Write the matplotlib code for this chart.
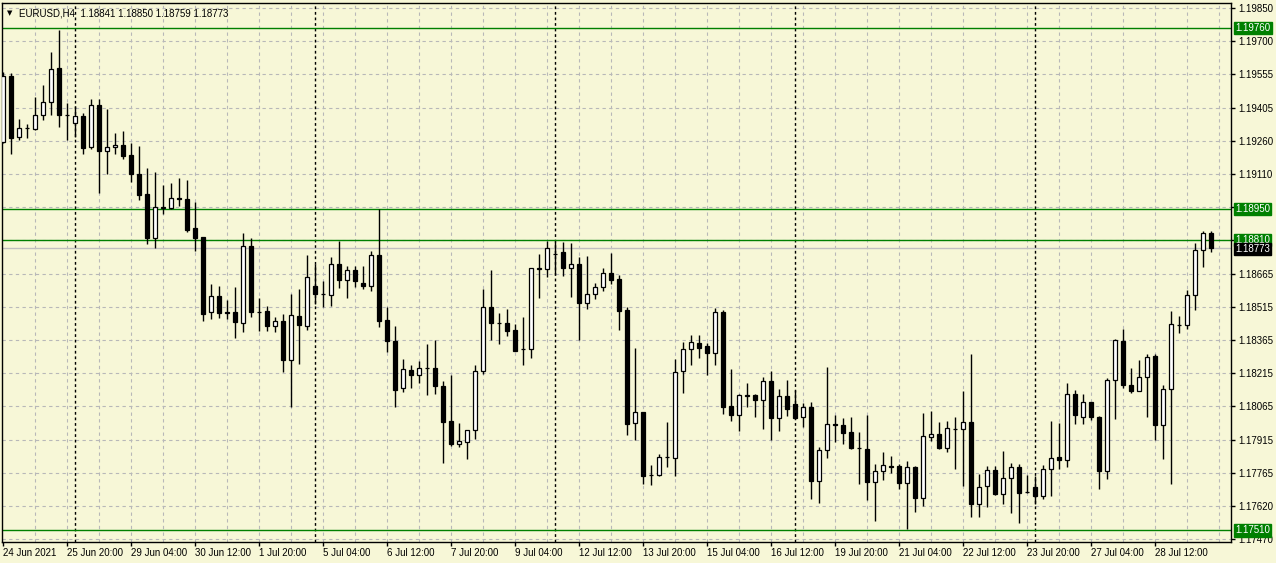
import matplotlib
matplotlib.use('Agg')
import matplotlib.pyplot as plt
import matplotlib.transforms as mtransforms
import numpy as np

plt.rcParams['font.family'] = ['Liberation Sans', 'DejaVu Sans']

# ---- data (EURUSD H4) ----
symbol = 'EURUSD,H4'

opens = [1.19250, 1.19545, 1.19270, 1.19310, 1.19307, 1.19369, 1.19427, 1.19582, 1.19369, 1.19334,
         1.19364, 1.19226, 1.19414, 1.19210, 1.19226, 1.19234, 1.19191, 1.19106, 1.19017, 1.18821,
         1.18955, 1.18953, 1.18999, 1.18995, 1.18864, 1.18824, 1.18486, 1.18559, 1.18486, 1.18486,
         1.18441, 1.18782, 1.18490, 1.18491, 1.18427, 1.18446, 1.18274, 1.18470, 1.18427, 1.18604,
         1.18570, 1.18565, 1.18702, 1.18633, 1.18675, 1.18618, 1.18605, 1.18742, 1.18453, 1.18358,
         1.18146, 1.18229, 1.18204, 1.18239, 1.18237, 1.18157, 1.17999, 1.17896, 1.17908, 1.17959,
         1.18223, 1.18509, 1.18440, 1.18437, 1.18408, 1.18322, 1.18321, 1.18679, 1.18679, 1.18749,
         1.18755, 1.18683, 1.18702, 1.18530, 1.18570, 1.18599, 1.18665, 1.18636, 1.18499, 1.17993,
         1.18039, 1.17758, 1.17760, 1.17837, 1.17835, 1.18223, 1.18321, 1.18348, 1.18335, 1.18306,
         1.18486, 1.18065, 1.18028, 1.18113, 1.18117, 1.18093, 1.18178, 1.18015, 1.18110, 1.18075,
         1.18017, 1.18062, 1.17731, 1.17871, 1.17988, 1.17980, 1.17949, 1.17880, 1.17874, 1.17726,
         1.17774, 1.17797, 1.17798, 1.17721, 1.17792, 1.17654, 1.17930, 1.17940, 1.17880, 1.17964,
         1.17962, 1.17994, 1.17626, 1.17707, 1.17779, 1.17674, 1.17744, 1.17795, 1.17684, 1.17705,
         1.17662, 1.17784, 1.17838, 1.17827, 1.18123, 1.18020, 1.18083, 1.18020, 1.17774, 1.18184,
         1.18358, 1.18160, 1.18136, 1.18195, 1.18290, 1.17983, 1.18141, 1.18430, 1.18430, 1.18564,
         1.18765, 1.18841]

highs = [1.19564, 1.19557, 1.19352, 1.19331, 1.19451, 1.19503, 1.19651, 1.19749, 1.19422, 1.19411,
         1.19381, 1.19440, 1.19442, 1.19397, 1.19290, 1.19299, 1.19245, 1.19231, 1.19133, 1.19114,
         1.19057, 1.19065, 1.19088, 1.19081, 1.18980, 1.18824, 1.18615, 1.18604, 1.18541, 1.18599,
         1.18840, 1.18819, 1.18551, 1.18514, 1.18466, 1.18477, 1.18567, 1.18591, 1.18744, 1.18704,
         1.18626, 1.18734, 1.18808, 1.18692, 1.18692, 1.18694, 1.18763, 1.18948, 1.18511, 1.18425,
         1.18277, 1.18249, 1.18269, 1.18343, 1.18363, 1.18179, 1.18208, 1.17991, 1.17959, 1.18249,
         1.18591, 1.18676, 1.18483, 1.18501, 1.18435, 1.18466, 1.18686, 1.18749, 1.18808, 1.18808,
         1.18802, 1.18795, 1.18734, 1.18739, 1.18618, 1.18687, 1.18752, 1.18652, 1.18511, 1.18327,
         1.18041, 1.17801, 1.17851, 1.17996, 1.18277, 1.18353, 1.18385, 1.18385, 1.18350, 1.18506,
         1.18499, 1.18232, 1.18121, 1.18170, 1.18121, 1.18197, 1.18224, 1.18144, 1.18184, 1.18138,
         1.18081, 1.18084, 1.17883, 1.18242, 1.18028, 1.18015, 1.18020, 1.17951, 1.18027, 1.17806,
         1.17859, 1.17843, 1.17806, 1.17819, 1.17800, 1.18035, 1.18043, 1.17996, 1.17999, 1.18017,
         1.18133, 1.18298, 1.17763, 1.17798, 1.17800, 1.17864, 1.17811, 1.17808, 1.17758, 1.17752,
         1.17803, 1.17999, 1.17991, 1.18170, 1.18138, 1.18120, 1.18084, 1.18021, 1.18194, 1.18369,
         1.18414, 1.18237, 1.18273, 1.18298, 1.18298, 1.18162, 1.18493, 1.18470, 1.18586, 1.18797,
         1.18850, 1.18850]

lows = [1.19245, 1.19197, 1.19258, 1.19266, 1.19303, 1.19347, 1.19371, 1.19318, 1.19258, 1.19274,
        1.19197, 1.19217, 1.19022, 1.19107, 1.19197, 1.19175, 1.19070, 1.18991, 1.18792, 1.18773,
        1.18929, 1.18950, 1.18961, 1.18848, 1.18760, 1.18450, 1.18458, 1.18461, 1.18458, 1.18371,
        1.18398, 1.18464, 1.18403, 1.18404, 1.18398, 1.18221, 1.18064, 1.18257, 1.18409, 1.18522,
        1.18511, 1.18517, 1.18596, 1.18551, 1.18599, 1.18589, 1.18580, 1.18422, 1.18310, 1.18064,
        1.18129, 1.18149, 1.18170, 1.18117, 1.18121, 1.17814, 1.17888, 1.17883, 1.17830, 1.17919,
        1.18210, 1.18363, 1.18347, 1.18380, 1.18312, 1.18249, 1.18284, 1.18551, 1.18644, 1.18655,
        1.18651, 1.18556, 1.18361, 1.18503, 1.18548, 1.18580, 1.18615, 1.18409, 1.17937, 1.17916,
        1.17719, 1.17715, 1.17755, 1.17795, 1.17755, 1.18125, 1.18250, 1.18282, 1.18208, 1.18250,
        1.18033, 1.17999, 1.17956, 1.18064, 1.18020, 1.17964, 1.17916, 1.17956, 1.18023, 1.18007,
        1.17975, 1.17650, 1.17634, 1.17835, 1.17908, 1.17896, 1.17875, 1.17719, 1.17647, 1.17554,
        1.17735, 1.17766, 1.17695, 1.17518, 1.17594, 1.17621, 1.17911, 1.17875, 1.17863, 1.17787,
        1.17707, 1.17570, 1.17570, 1.17615, 1.17670, 1.17626, 1.17586, 1.17544, 1.17679, 1.17628,
        1.17650, 1.17666, 1.17787, 1.17795, 1.17988, 1.17988, 1.18004, 1.17695, 1.17742, 1.18007,
        1.18149, 1.18125, 1.18134, 1.18020, 1.17916, 1.17830, 1.17719, 1.18395, 1.18414, 1.18499,
        1.18691, 1.18759]

closes = [1.19545, 1.19266, 1.19311, 1.19311, 1.19369, 1.19427, 1.19575, 1.19372, 1.19370, 1.19364,
          1.19221, 1.19414, 1.19210, 1.19226, 1.19236, 1.19189, 1.19104, 1.19014, 1.18821, 1.18958,
          1.18958, 1.18998, 1.18993, 1.18856, 1.18821, 1.18478, 1.18559, 1.18485, 1.18485, 1.18445,
          1.18782, 1.18490, 1.18489, 1.18427, 1.18446, 1.18274, 1.18474, 1.18430, 1.18644, 1.18570,
          1.18569, 1.18702, 1.18633, 1.18675, 1.18625, 1.18604, 1.18742, 1.18450, 1.18359, 1.18139,
          1.18232, 1.18204, 1.18237, 1.18238, 1.18157, 1.17996, 1.17896, 1.17911, 1.17959, 1.18223,
          1.18509, 1.18440, 1.18439, 1.18404, 1.18314, 1.18323, 1.18684, 1.18684, 1.18774, 1.18748,
          1.18683, 1.18702, 1.18530, 1.18570, 1.18599, 1.18663, 1.18631, 1.18494, 1.17988, 1.18039,
          1.17755, 1.17757, 1.17837, 1.17838, 1.18220, 1.18322, 1.18353, 1.18329, 1.18306, 1.18486,
          1.18064, 1.18028, 1.18117, 1.18115, 1.18093, 1.18178, 1.18015, 1.18110, 1.18052, 1.18015,
          1.18062, 1.17731, 1.17871, 1.17988, 1.17980, 1.17945, 1.17880, 1.17879, 1.17726, 1.17774,
          1.17801, 1.17796, 1.17721, 1.17792, 1.17657, 1.17932, 1.17940, 1.17880, 1.17967, 1.17965,
          1.17994, 1.17626, 1.17703, 1.17779, 1.17674, 1.17744, 1.17795, 1.17679, 1.17683, 1.17662,
          1.17784, 1.17835, 1.17827, 1.18123, 1.18025, 1.18083, 1.18020, 1.17774, 1.18184, 1.18361,
          1.18163, 1.18136, 1.18195, 1.18285, 1.17983, 1.18144, 1.18433, 1.18431, 1.18564, 1.18765,
          1.18840, 1.18773]

time_labels = ['24 Jun 2021', '25 Jun 20:00', '29 Jun 04:00', '30 Jun 12:00', '1 Jul 20:00',
               '5 Jul 04:00', '6 Jul 12:00', '7 Jul 20:00', '9 Jul 04:00', '12 Jul 12:00',
               '13 Jul 20:00', '15 Jul 04:00', '16 Jul 12:00', '19 Jul 20:00', '21 Jul 04:00',
               '22 Jul 12:00', '23 Jul 20:00', '27 Jul 04:00', '28 Jul 12:00']
bars_per_label = 8
week_starts = [9, 39, 69, 99, 129]

price_grid_labels = ['1.17470', '1.17620', '1.17765', '1.17915', '1.18065', '1.18215',
                     '1.18365', '1.18515', '1.18665', '', '', '1.19110', '1.19260',
                     '1.19405', '1.19555', '1.19700', '1.19850']
level_lines = [1.19760, 1.18950, 1.18810, 1.17510]
last_price = 1.18773

# ---- look ----
bg = '#F7F7D7'
green = '#008000'
grid_col = '#B8B8B8'
W, H = 1276, 563

fig = plt.figure(figsize=(W / 100, H / 100), dpi=100)
fig.patch.set_facecolor(bg)
ax = fig.add_axes([2 / W, 21 / H, 1229 / W, 539 / H])
ax.set_facecolor(bg)

n = len(opens)
x = np.arange(n)
o = np.array(opens); h = np.array(highs); l = np.array(lows); c = np.array(closes)

ax.set_xlim(-0.16, 153.46)
ax.set_ylim(1.17458, 1.19872)

# grid
grid_prices = np.linspace(1.17470, 1.19850, len(price_grid_labels))
for gp in grid_prices:
    ax.axhline(gp, color=grid_col, lw=0.8, dashes=(3, 3), zorder=0)
for gx in range(4, 154, 4):
    ax.axvline(gx, color=grid_col, lw=0.8, dashes=(3, 3), zorder=0)

# week separators
for ws in week_starts:
    ax.axvline(ws, color='black', lw=1, dashes=(2, 2), zorder=1)

# level lines
for lv in level_lines:
    ax.axhline(lv, color=green, lw=1, zorder=1)
ax.axhline(last_price, color='#C0C0C0', lw=1, zorder=1)

# candles
ax.vlines(x, l, h, color='black', lw=1, zorder=2)
up = c >= o
body_bottom = np.minimum(o, c)
body_height = np.maximum(np.abs(c - o), 0.000005)
ax.bar(x[up], body_height[up], bottom=body_bottom[up], width=0.5,
       color='white', edgecolor='black', linewidth=0.9, zorder=3)
ax.bar(x[~up], body_height[~up], bottom=body_bottom[~up], width=0.5,
       color='black', edgecolor='black', linewidth=0.9, zorder=3)

# axes styling
for sp in ax.spines.values():
    sp.set_color('black')
    sp.set_linewidth(1)

label_idx = np.arange(len(time_labels)) * bars_per_label
ax.set_xticks(label_idx)
ax.set_xticklabels(time_labels, ha='left', fontsize=7)
ax.tick_params(axis='x', length=3, width=1, pad=1, colors='black')

ax.yaxis.tick_right()
ax.set_yticks(grid_prices)
ax.set_yticklabels(price_grid_labels, fontsize=7)
ax.tick_params(axis='y', length=3, width=1, pad=2, colors='black')

# price tags on the right
tr = mtransforms.blended_transform_factory(ax.transAxes, ax.transData)
for lv in level_lines:
    ax.text(1.0035, lv, f'{lv:.5f}', transform=tr, fontsize=7, color='white',
            va='center', ha='left', clip_on=False, zorder=5,
            bbox=dict(boxstyle='square,pad=0.12', facecolor=green, edgecolor=green))
ax.text(1.0035, last_price - 0.00002, f'{last_price:.5f}', transform=tr, fontsize=7,
        color='white', va='center', ha='left', clip_on=False, zorder=6,
        bbox=dict(boxstyle='square,pad=0.12', facecolor='black', edgecolor='black'))

# header
ax.text(0.004, 0.986, '\u25bc', transform=ax.transAxes, fontsize=5, va='top', ha='left',
        family='DejaVu Sans')
ax.text(0.014, 0.989, f'{symbol}  {opens[-1]:.5f} {highs[-1]:.5f} {lows[-1]:.5f} {closes[-1]:.5f}',
        transform=ax.transAxes, fontsize=7, va='top', ha='left')

fig.savefig('out.png', dpi=100, facecolor=bg)
